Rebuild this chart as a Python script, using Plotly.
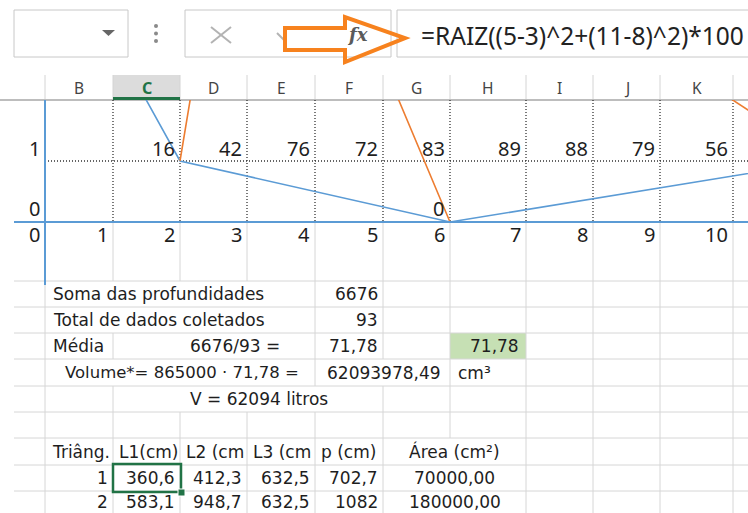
import plotly.graph_objects as go

# ---------------- data ----------------
COLUMN_LETTERS = ["B", "C", "D", "E", "F", "G", "H", "I", "J", "K"]
DEPTHS_ROW = [16, 42, 76, 72, 83, 89, 88, 79, 56]          # columns C..K
AXIS_LABELS = [0, 1, 2, 3, 4, 5, 6, 7, 8, 9, 10]
ROW_LABELS = [1, 0]

BLUE_X = [1.0, 2.0, 6.0, 11.0]
BLUE_Y = [3.0, 1.0, 0.0, 0.9]
ORANGE_X = [2.0, 2.3, 4.86, 6.0, None, 9.9, 10.6]
ORANGE_Y = [1.0, 3.0, 3.0, 0.0, None, 2.21, 1.7]

FORMULA = "=RAIZ((5-3)^2+(11-8)^2)*100"
SOMA = 6676
TOTAL = 93
MEDIA = "71,78"
VOLUME = "62093978,49"
LITROS = 62094

TRI_HEADERS = ["Triâng.", "L1(cm)", "L2 (cm", "L3 (cm", "p (cm)", "Área (cm²)"]
TRI_IDS = [1, 2]
TRI_L1 = ["360,6", "583,1"]
TRI_L2 = ["412,3", "948,7"]
TRI_L3 = ["632,5", "632,5"]
TRI_P = ["702,7", "1082"]
TRI_AREA = ["70000,00", "180000,00"]

# ---------------- layout geometry (pixels) ----------------
W, H = 748, 513
LEFT = 14
B = [45, 113, 180, 247, 315, 383, 450, 526, 593, 660, 733]   # column boundaries A|B ... K|L
HDR_TOP, HDR_BOT = 75, 100
ROW1_LINE, AXIS_Y = 161, 222
ROWS = [281, 307, 333, 359, 386, 412, 438, 465, 491, 513]
UNIT_X, UNIT_Y = 67.5, 61.0

GRID = "#d6d6d6"
TXT = "#1e1e1e"
CELLF = "DejaVu Sans"
NUMF = "Noto Sans"

fig = go.Figure()

# chart traces (second axis pair)
fig.add_trace(go.Scatter(x=BLUE_X, y=BLUE_Y, mode="lines", xaxis="x2", yaxis="y2",
                         line=dict(color="#5b9bd5", width=1.6), hoverinfo="skip", showlegend=False))
fig.add_trace(go.Scatter(x=ORANGE_X, y=ORANGE_Y, mode="lines", xaxis="x2", yaxis="y2",
                         line=dict(color="#ed7d31", width=1.6), hoverinfo="skip", showlegend=False,
                         connectgaps=False))

shapes = []
ann = []

def line(x0, y0, x1, y1, color=GRID, width=1, dash=None, xref="x", yref="y", layer="below"):
    d = dict(type="line", x0=x0, y0=y0, x1=x1, y1=y1, xref=xref, yref=yref,
             line=dict(color=color, width=width), layer=layer)
    if dash:
        d["line"]["dash"] = dash
    shapes.append(d)

def rect(x0, y0, x1, y1, fill, lc=None, lw=0, layer="below"):
    shapes.append(dict(type="rect", x0=x0, y0=y0, x1=x1, y1=y1, xref="x", yref="y",
                       fillcolor=fill, line=dict(color=lc or fill, width=lw), layer=layer))

def text(x, y, s, anchor="left", size=17, family=CELLF, color=TXT):
    ann.append(dict(x=x, y=y, xref="x", yref="y", text=s, showarrow=False,
                    xanchor=anchor, yanchor="middle", font=dict(family=family, size=size, color=color)))

# ---------- toolbar ----------
rect(14, 10, 128, 57, "rgba(0,0,0,0)", "#c8c8c8", 1)
shapes.append(dict(type="path", path="M 102 30 L 115 30 L 108.5 36 Z", xref="x", yref="y",
                   fillcolor="#666666", line=dict(color="#666666", width=0)))
for yy in (26, 33.5, 41):
    shapes.append(dict(type="circle", x0=154, x1=158, y0=yy - 2, y1=yy + 2, xref="x", yref="y",
                       fillcolor="#8a8a8a", line=dict(width=0)))
rect(185, 10, 391, 57, "rgba(0,0,0,0)", "#c8c8c8", 1)
rect(397, 10, 760, 57, "rgba(0,0,0,0)", "#c8c8c8", 1)
line(211, 27, 231, 43, "#b3b3b3", 2)
line(211, 43, 231, 27, "#b3b3b3", 2)
line(277, 33, 285, 41, "#b3b3b3", 2)
text(357, 34, "<b><i>fx</i></b>", "center", 18, "DejaVu Serif", "#5a5a5a")
text(419, 35, FORMULA, "left", 24.5, NUMF, "#222222")
shapes.append(dict(type="path", path="M 285 28 L 345 28 L 345 17 L 405 38 L 345 62 L 345 50 L 285 50 Z",
                   xref="x", yref="y", fillcolor="rgba(0,0,0,0)",
                   line=dict(color="#f7821e", width=4), layer="above"))

# ---------- column headers ----------
rect(B[1], HDR_TOP, B[2], HDR_BOT, "#dcdcdc")
for bx in B:
    line(bx, HDR_TOP, bx, HDR_BOT, "#d4d4d4", 1)
line(0, HDR_BOT, W, HDR_BOT, "#bdbdbd", 2)
line(B[1], HDR_BOT - 1.5, B[2], HDR_BOT - 1.5, "#217346", 3)
edges = B + [806]
for i, letter in enumerate(COLUMN_LETTERS):
    cx = (edges[i] + edges[i + 1]) / 2
    if letter == "C":
        text(cx, 88, "<b>C</b>", "center", 16, NUMF, "#217346")
    else:
        text(cx, 88, letter, "center", 15.5, NUMF, "#444444")

# ---------- chart-area cells ----------
for bx in B[1:]:
    line(bx, HDR_BOT, bx, AXIS_Y, "#333333", 1.3, "1px,2px")
    line(bx, AXIS_Y, bx, ROWS[0], GRID, 1)
line(B[0], ROW1_LINE, W, ROW1_LINE, "#333333", 1.3, "1px,2px")

text(B[0] - 3, 148, str(ROW_LABELS[0]), "right", 20, NUMF)
for i, v in enumerate(DEPTHS_ROW):
    text(B[i + 2] - 3, 148, str(v), "right", 20, NUMF)
text(B[0] - 3, 208, str(ROW_LABELS[1]), "right", 20, NUMF)
text(B[6] - 4, 208, "0", "right", 20, NUMF)
for i, v in enumerate(AXIS_LABELS):
    text(B[i] - 3, 234, str(v), "right", 20, NUMF)

# chart axes (blue) in chart coordinates
line(0, 0, 0, 1, "#5b9bd5", 2, xref="x2", yref="y2 domain", layer="above")
line(0, 0, 1, 0, "#5b9bd5", 2, xref="x2 domain", yref="y2", layer="above")

# ---------- lower table ----------
rect(B[6], ROWS[2], B[7], ROWS[3], "#c6e0b4")
for ry in ROWS[:-1]:
    line(LEFT, ry, W, ry, GRID, 1)
ALL = list(range(11))
row_seps = [
    [0, 4, 5, 6, 7, 8, 9, 10],
    [0, 4, 5, 6, 7, 8, 9, 10],
    [0, 1, 4, 5, 6, 7, 8, 9, 10],
    [0, 4, 6, 7, 8, 9, 10],
    [0, 1, 5, 6, 7, 8, 9, 10],
    ALL,
    [0, 1, 2, 3, 4, 5, 7, 8, 9, 10],
    [0, 1, 2, 3, 4, 5, 7, 8, 9, 10],
    [0, 1, 2, 3, 4, 5, 7, 8, 9, 10],
]
for r, seps in enumerate(row_seps):
    for k in seps:
        line(B[k], ROWS[r], B[k], ROWS[r + 1], GRID, 1)

def mid(r):
    return (ROWS[r] + ROWS[r + 1]) / 2

text(51, mid(0), "Soma das profundidades")
text(B[5] - 3, mid(0), str(SOMA), "right")
text(51, mid(1), "Total de dados coletados")
text(B[5] - 3, mid(1), str(TOTAL), "right")
text(51, mid(2), "Média")
text(188, mid(2), f"{SOMA}/{TOTAL} =")
text(B[5] - 3, mid(2), MEDIA, "right")
text(B[7] - 5, mid(2), MEDIA, "right")
text(182, mid(3), f"Volume*= 865000 · {MEDIA} =", "center", 16.5)
text(B[6] - 7, mid(3), VOLUME, "right")
text(456, mid(3), "cm³")
text(188, mid(4), f"V = {LITROS} litros")

# triangle table
hx = [50, 117, 184, 251, 319]
for x, h in zip(hx, TRI_HEADERS[:5]):
    text(x, mid(6), h)
text((B[5] + B[7]) / 2, mid(6), TRI_HEADERS[5], "center")
for j in range(len(TRI_IDS)):
    r = 7 + j
    text(B[1] - 3, mid(r), str(TRI_IDS[j]), "right")
    text(B[2] - 3, mid(r), TRI_L1[j], "right")
    text(B[3] - 3, mid(r), TRI_L2[j], "right")
    text(B[4] - 3, mid(r), TRI_L3[j], "right")
    text(B[5] - 3, mid(r), TRI_P[j], "right")
    text((B[5] + B[7]) / 2, mid(r), TRI_AREA[j], "center")

# selected cell
shapes.append(dict(type="rect", x0=B[1], x1=B[2] + 1, y0=ROWS[7] - 1, y1=ROWS[8] + 1, xref="x", yref="y",
                   fillcolor="rgba(0,0,0,0)", line=dict(color="#217346", width=2.5), layer="above"))
shapes.append(dict(type="rect", x0=B[2] - 2, x1=B[2] + 5, y0=ROWS[8] - 2, y1=ROWS[8] + 5, xref="x", yref="y",
                   fillcolor="#217346", line=dict(color="white", width=1), layer="above"))

fig.update_layout(
    width=W, height=H, margin=dict(l=0, r=0, t=0, b=0),
    paper_bgcolor="white", plot_bgcolor="rgba(0,0,0,0)",
    xaxis=dict(range=[0, W], domain=[0, 1], visible=False, fixedrange=True),
    yaxis=dict(range=[H, 0], domain=[0, 1], visible=False, fixedrange=True),
    xaxis2=dict(domain=[LEFT / W, 1], anchor="y2", visible=False, fixedrange=True,
                range=[(LEFT - B[0]) / UNIT_X, (W - B[0]) / UNIT_X]),
    yaxis2=dict(domain=[1 - 285 / H, 1 - HDR_BOT / H], anchor="x2", visible=False, fixedrange=True,
                range=[-(285 - AXIS_Y) / UNIT_Y, (AXIS_Y - HDR_BOT) / UNIT_Y]),
    shapes=shapes, annotations=ann, showlegend=False,
)

fig.write_html("out.html", config={"displayModeBar": False},
               post_script="document.body.style.margin='0';document.body.style.overflow='hidden';")
